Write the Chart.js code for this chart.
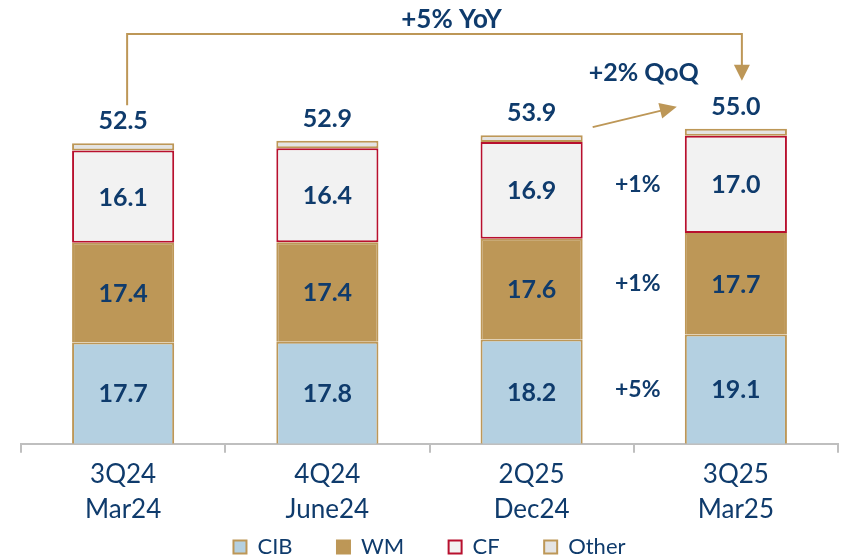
<!DOCTYPE html>
<html>
<head>
<meta charset="utf-8">
<title>Revenue by segment</title>
<script src="https://cdn.jsdelivr.net/npm/chart.js@4.4.1/dist/chart.umd.min.js"></script>
<style>
  html, body { margin: 0; padding: 0; background: #ffffff; }
  #wrap { position: relative; width: 843px; height: 560px; }
</style>
</head>
<body>
<div id="wrap"><canvas id="chart"></canvas></div>
<script>
// quarter / month-end labels
const categories = [['3Q24', 'Mar24'], ['4Q24', 'June24'], ['2Q25', 'Dec24'], ['3Q25', 'Mar25']];

// segment values
const cibValues = [17.7, 17.8, 18.2, 19.1];
const wmValues = [17.4, 17.4, 17.6, 17.7];
const cfValues = [16.1, 16.4, 16.9, 17.0];
const otherValues = [1.3, 1.3, 1.2, 1.2];
const totalValues = [52.5, 52.9, 53.9, 55.0];

// growth call-outs (last quarter vs previous), bottom to top: CIB, WM, CF
const segmentGrowth = ['+5%', '+1%', '+1%'];
const yoyLabel = '+5% YoY';
const qoqLabel = '+2% QoQ';

const NAVY = '#0f3b6c';
const TAN = '#bd9757';
const FONT = "Lato, 'DejaVu Sans', sans-serif";

(function () {
    'use strict';

    function arrowHead(ctx, x, y, angle, len, half) {
        ctx.save();
        ctx.translate(x, y);
        ctx.rotate(angle);
        ctx.beginPath();
        ctx.moveTo(0, 0);
        ctx.lineTo(-len, -half);
        ctx.lineTo(-len, half);
        ctx.closePath();
        ctx.fill();
        ctx.restore();
    }

    const calloutPlugin = {
        id: 'callouts',
        afterDatasetsDraw(chart) {
            const ctx = chart.ctx;
            const bars = chart.data.datasets.map((d, i) => chart.getDatasetMeta(i).data);
            ctx.save();
            ctx.textAlign = 'center';
            ctx.textBaseline = 'middle';
            ctx.fillStyle = NAVY;

            // values inside the three main segments
            ctx.font = 'bold 25px ' + FONT;
            for (let d = 0; d < 3; d++) {
                bars[d].forEach((bar, i) => {
                    const p = bar.getProps(['x', 'y', 'base'], true);
                    ctx.fillText(chart.data.datasets[d].data[i].toFixed(1), p.x, (p.y + p.base) / 2 + 1);
                });
            }

            // totals above each stack
            bars[3].forEach((bar, i) => {
                const p = bar.getProps(['x', 'y'], true);
                ctx.fillText(totalValues[i].toFixed(1), p.x, p.y - 22);
            });

            // segment growth between last two stacks
            ctx.font = 'bold 23px ' + FONT;
            const last = bars[0].length - 1;
            const gx = (bars[0][last].x + bars[0][last - 1].x) / 2 + 4;
            for (let d = 0; d < 3; d++) {
                const p = bars[d][last].getProps(['y', 'base'], true);
                ctx.fillText(segmentGrowth[d], gx, (p.y + p.base) / 2);
            }

            // YoY bracket from first to last stack
            const first = bars[3][0].getProps(['x', 'y'], true);
            const end = bars[3][last].getProps(['x', 'y'], true);
            const lineTop = chart.chartArea.top + 34;
            const lx = first.x + 4;
            const rx = end.x + 6;
            ctx.strokeStyle = TAN;
            ctx.fillStyle = TAN;
            ctx.lineWidth = 2;
            ctx.beginPath();
            ctx.moveTo(lx, first.y - 38);
            ctx.lineTo(lx, lineTop);
            ctx.lineTo(rx, lineTop);
            ctx.lineTo(rx, end.y - 60);
            ctx.stroke();
            arrowHead(ctx, rx, end.y - 48, Math.PI / 2, 16, 8);

            // QoQ arrow between the last two stacks
            const prev = bars[3][last - 1].getProps(['x', 'y', 'width'], true);
            const cur = bars[3][last].getProps(['x', 'y', 'width'], true);
            const sx = prev.x + prev.width / 2 + 10;
            const sy = prev.y - 8;
            const tx = cur.x - cur.width / 2 - 8;
            const ty = cur.y - 22;
            const ang = Math.atan2(ty - sy, tx - sx);
            ctx.beginPath();
            ctx.moveTo(sx, sy);
            ctx.lineTo(tx - 14 * Math.cos(ang), ty - 14 * Math.sin(ang));
            ctx.stroke();
            arrowHead(ctx, tx, ty, ang, 17, 8);

            // call-out texts
            ctx.fillStyle = NAVY;
            ctx.font = 'bold 26px ' + FONT;
            ctx.fillText(yoyLabel, (lx + rx) / 2 + 17, chart.chartArea.top + 20);
            ctx.font = 'bold 25px ' + FONT;
            ctx.fillText(qoqLabel, (sx + tx) / 2 + 9, cur.y - 56);
            ctx.restore();
        }
    };

    new Chart(document.getElementById('chart').getContext('2d'), {
        type: 'bar',
        data: {
            labels: categories,
            datasets: [
                { label: 'CIB', data: cibValues, backgroundColor: '#b4d0e1', borderColor: TAN, borderWidth: 2, borderSkipped: 'bottom' },
                { label: 'WM', data: wmValues, backgroundColor: TAN, borderColor: TAN, borderWidth: 2 },
                { label: 'CF', data: cfValues, backgroundColor: '#f2f2f2', borderColor: '#b8102e', borderWidth: 2, borderSkipped: false },
                { label: 'Other', data: otherValues, backgroundColor: '#e4e4e4', borderColor: TAN, borderWidth: 2, borderSkipped: false }
            ]
        },
        options: {
            responsive: true,
            maintainAspectRatio: false,
            animation: false,
            datasets: { bar: { barPercentage: 0.5, categoryPercentage: 1 } },
            layout: { padding: { left: 21, right: 5, top: 0, bottom: -8 } },
            plugins: {
                legend: {
                    position: 'bottom',
                    labels: {
                        color: NAVY,
                        font: { size: 22, family: FONT },
                        boxWidth: 13,
                        boxHeight: 13,
                        padding: 5,
                        // widen the gap between entries without adding vertical space
                        generateLabels(chart) {
                            const items = Chart.defaults.plugins.legend.labels.generateLabels(chart);
                            items.forEach((it, i) => {
                                if (i < items.length - 1) it.text += '       ';
                            });
                            return items;
                        }
                    }
                },
                tooltip: { enabled: false }
            },
            scales: {
                x: {
                    stacked: true,
                    grid: { display: true, drawOnChartArea: false, drawTicks: true, tickLength: 9, color: '#bfbfbf', lineWidth: 2 },
                    border: { display: true, color: '#bfbfbf', width: 2 },
                    ticks: { color: NAVY, font: { size: 26, family: FONT, lineHeight: 1.35 }, padding: 4, maxRotation: 0 }
                },
                y: {
                    stacked: true,
                    display: false,
                    min: 0,
                    max: 77.5
                }
            }
        },
        plugins: [calloutPlugin]
    });
})();
</script>
</body>
</html>
